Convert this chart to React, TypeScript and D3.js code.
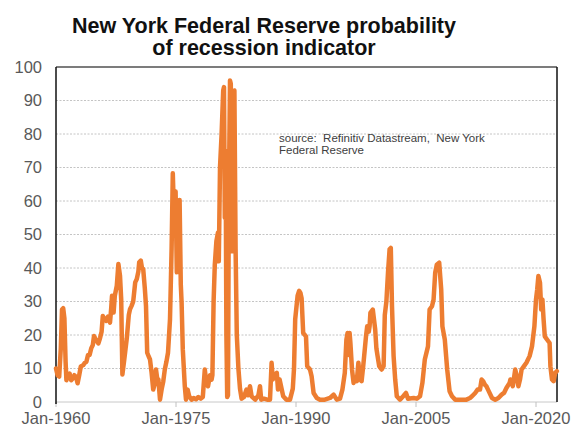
import React from "react";
import * as d3 from "d3";

const years: number[] = [
  1960.0, 1960.2, 1960.4, 1960.6, 1960.75, 1960.9, 1961.05, 1961.2, 1961.3, 1961.5, 1961.7, 1961.9,
  1962.1, 1962.3, 1962.5, 1962.7, 1962.9, 1963.1, 1963.4, 1963.6, 1963.8, 1964.0, 1964.2, 1964.4,
  1964.6, 1964.75, 1965.0, 1965.3, 1965.5, 1965.7, 1965.85, 1966.0, 1966.3, 1966.5, 1966.75, 1966.9,
  1967.0, 1967.2, 1967.35, 1967.6, 1967.8, 1968.0, 1968.15, 1968.3, 1968.5, 1968.65, 1968.85, 1969.1,
  1969.25, 1969.45, 1969.65, 1969.9, 1970.1, 1970.3, 1970.4, 1970.6, 1970.75, 1970.9, 1971.1, 1971.25,
  1971.4, 1971.6, 1971.75, 1971.95, 1972.15, 1972.3, 1972.5, 1972.65, 1972.8, 1973.0, 1973.2, 1973.4,
  1973.6, 1973.8, 1974.0, 1974.25, 1974.45, 1974.6, 1974.7, 1974.85, 1974.95, 1975.1, 1975.3, 1975.45,
  1975.6, 1975.7, 1975.85, 1976.1, 1976.25, 1976.45, 1976.65, 1976.95, 1977.2, 1977.5, 1977.8, 1978.1,
  1978.35, 1978.6, 1978.75, 1979.0, 1979.25, 1979.45, 1979.55, 1979.7, 1979.85, 1980.05, 1980.25, 1980.35,
  1980.5, 1980.7, 1980.9, 1981.0, 1981.1, 1981.2, 1981.3, 1981.4, 1981.5, 1981.6, 1981.75, 1981.85,
  1981.95, 1982.05, 1982.15, 1982.3, 1982.45, 1982.6, 1982.8, 1983.0, 1983.2, 1983.5, 1983.8, 1984.0,
  1984.25, 1984.45, 1984.9, 1985.3, 1985.5, 1985.65, 1986.0, 1986.4, 1986.75, 1986.95, 1987.1, 1987.3,
  1987.6, 1987.75, 1987.95, 1988.4, 1988.8, 1989.25, 1989.6, 1989.75, 1989.9, 1990.2, 1990.4, 1990.55,
  1990.7, 1990.9, 1991.25, 1991.4, 1991.75, 1991.95, 1992.2, 1992.6, 1993.0, 1993.6, 1994.25, 1994.7,
  1995.1, 1995.5, 1995.8, 1996.1, 1996.3, 1996.45, 1996.6, 1996.7, 1996.8, 1997.0, 1997.2, 1997.4,
  1997.6, 1997.8, 1998.0, 1998.2, 1998.4, 1998.75, 1998.9, 1999.1, 1999.2, 1999.3, 1999.6, 1999.75,
  1999.9, 2000.05, 2000.2, 2000.4, 2000.7, 2000.95, 2001.1, 2001.3, 2001.5, 2001.7, 2001.85, 2002.0,
  2002.2, 2002.4, 2002.6, 2003.0, 2003.4, 2003.75, 2004.0, 2004.7, 2005.1, 2005.5, 2005.8, 2006.1,
  2006.5, 2006.7, 2007.0, 2007.2, 2007.4, 2007.6, 2007.9, 2008.15, 2008.3, 2008.6, 2008.9, 2009.2,
  2009.5, 2009.9, 2010.5, 2011.3, 2011.75, 2012.0, 2012.4, 2012.7, 2013.0, 2013.2, 2013.4, 2013.6,
  2013.8, 2014.0, 2014.5, 2014.9, 2015.3, 2015.7, 2016.0, 2016.3, 2016.7, 2016.8, 2017.1, 2017.4,
  2017.6, 2017.8, 2018.0, 2018.2, 2018.5, 2018.8, 2019.2, 2019.5, 2019.8, 2020.0, 2020.15, 2020.3,
  2020.5, 2020.65, 2020.8, 2020.95, 2021.1, 2021.4, 2021.7, 2021.8, 2022.0, 2022.2, 2022.4, 2022.6,
];

const probability: number[] = [
  10, 8, 7.6, 16, 27.6, 28, 25, 12, 6.5, 8, 8.5, 6.5,
  7, 8, 7.5, 5.6, 8, 10.6, 11, 11.7, 12, 14, 14, 16,
  17, 19.7, 18.5, 17.5, 19, 21, 25.7, 25, 24.2, 25.5, 23.7, 28,
  31.7, 26.7, 31.7, 34.7, 41.2, 37.7, 30.7, 8.2, 12, 15, 19, 26,
  27.7, 28.7, 30, 35.7, 36.7, 39, 41.7, 42.2, 40, 39.7, 34, 28.7,
  14.7, 13.5, 12.7, 8.7, 3.7, 5, 9.7, 7, 6.7, 0.7, 3.7, 6,
  9.7, 12, 14.7, 24.7, 45.7, 68.3, 60, 50.7, 62.8, 38.7, 50, 60.3,
  35, 29.7, 15.7, 4.7, 0.7, 3.7, 1.7, 0.7, 1.2, 0.8, 1.5, 1,
  1.5, 9.7, 6.7, 4.7, 8, 6.7, 8, 30, 41, 48, 50.6, 42,
  70, 80, 93, 94, 55, 75, 20, 1.5, 2, 60, 96, 95,
  60, 45, 92, 93, 45.6, 20, 10, 4, 1, 1.5, 3.7, 2,
  4.7, 1.7, 0.7, 2, 4.7, 0.7, 1, 0.7, 0.7, 11.7, 6.7, 8,
  8.7, 3.7, 6.7, 1.7, 0.7, 0.7, 4, 10, 24.7, 31.7, 33.2, 32.6,
  31, 20.6, 19.6, 10.7, 9.7, 7.7, 2.7, 1.2, 0.7, 0.7, 1.2, 2.2,
  0.7, 1, 3.7, 8.7, 18.6, 20.6, 14, 20.6, 17.6, 9.7, 5.7, 6.7,
  6.2, 11.7, 6.7, 6.2, 10.7, 19.6, 22.6, 21, 22.6, 26.6, 27.6, 24.6,
  21.6, 16, 13.7, 10.7, 9.7, 10.7, 26, 30, 38.6, 45.6, 46, 28.6,
  13.7, 6.7, 1.7, 0.7, 1.7, 2.7, 1, 1.2, 1, 1.7, 5.7, 12.7,
  16.6, 27.6, 28.6, 30.6, 38.6, 41, 41.6, 33.6, 22.6, 18.6, 9.7, 3.2,
  1.7, 0.7, 0.7, 0.7, 1.2, 1.7, 2.7, 3.7, 3.7, 6.7, 6.2, 5.2,
  4.7, 3.7, 1.2, 0.7, 1.2, 2.2, 2.7, 4.2, 5.7, 6.7, 4.7, 9.7,
  7.7, 4.7, 6.7, 9.7, 10.7, 11.7, 13.7, 16.6, 22.6, 30.6, 33.6, 37.6,
  35.6, 27.6, 30.6, 24.6, 19.6, 18.6, 17.6, 10.7, 6.7, 6.2, 8.7, 9.2,
];

const yTicks: number[] = [0, 10, 20, 30, 40, 50, 60, 70, 80, 90, 100];
const xTicks: number[] = [1960, 1975, 1990, 2005, 2020];
const xTickLabels: string[] = ["Jan-1960", "Jan-1975", "Jan-1990", "Jan-2005", "Jan-2020"];
const titleLines: string[] = ["New York Federal Reserve probability", "of recession indicator"];
const sourceLines: string[] = ["source:  Refinitiv Datastream,  New York", "Federal Reserve"];

const W = 579;
const H = 427;
const left = 56;
const right = 557;
const top = 67;
const bottom = 402;

export default function App() {
  const x = d3.scaleLinear().domain([1960, 2022.625]).range([left, right]);
  const y = d3.scaleLinear().domain([0, 100]).range([bottom, top]);
  const pts: [number, number][] = years.map((yr, i) => [yr, probability[i]]);
  const line = d3
    .line<[number, number]>()
    .x((d) => x(d[0]))
    .y((d) => y(d[1]))
    .curve(d3.curveLinear);

  const font = "'Liberation Sans', Arial, sans-serif";

  return (
    <svg
      width={W}
      height={H}
      viewBox={`0 0 ${W} ${H}`}
      style={{ position: "absolute", left: 0, top: 0, background: "#fff" }}
      fontFamily={font}
    >
      <rect x={0} y={0} width={W} height={H} fill="#fff" />
      {titleLines.map((t, i) => (
        <text
          key={t}
          x={264}
          y={33 + i * 22}
          textAnchor="middle"
          fontSize={21.5}
          fontWeight="bold"
          fill="#111"
        >
          {t}
        </text>
      ))}
      {yTicks.map((v) => (
        <g key={v}>
          {v > 0 && v < 100 && (
            <line
              x1={left}
              x2={right}
              y1={y(v)}
              y2={y(v)}
              stroke="#c4c4c4"
              strokeWidth={1}
              strokeDasharray="2,1.5"
            />
          )}
          <text
            x={42}
            y={y(v) - 0.5}
            textAnchor="end"
            dominantBaseline="central"
            fontSize={16.5}
            fill="#595959"
          >
            {v}
          </text>
        </g>
      ))}
      <line x1={left} x2={right} y1={bottom} y2={bottom} stroke="#c8c8c8" strokeWidth={1} />
      {xTicks.map((t, i) => (
        <g key={t}>
          <line x1={x(t)} x2={x(t)} y1={bottom} y2={bottom + 5} stroke="#c0c0c0" strokeWidth={1} />
          <text x={x(t)} y={424} textAnchor="middle" fontSize={16.5} fill="#595959">
            {xTickLabels[i]}
          </text>
        </g>
      ))}
      <line x1={left} x2={right} y1={top} y2={top} stroke="#505050" strokeWidth={1.3} />
      <line x1={right} x2={right} y1={top} y2={bottom} stroke="#111" strokeWidth={1.5} />
      <line x1={left} x2={left} y1={top} y2={bottom + 2} stroke="#111" strokeWidth={1.5} />
      <path
        d={line(pts) ?? ""}
        fill="none"
        stroke="#ED7D31"
        strokeWidth={4.5}
        strokeLinejoin="round"
        strokeLinecap="round"
      />
      {sourceLines.map((s, i) => (
        <text key={s} x={279} y={142 + i * 11.5} fontSize={11.5} fill="#404040" xmlSpace="preserve">
          {s}
        </text>
      ))}
    </svg>
  );
}
